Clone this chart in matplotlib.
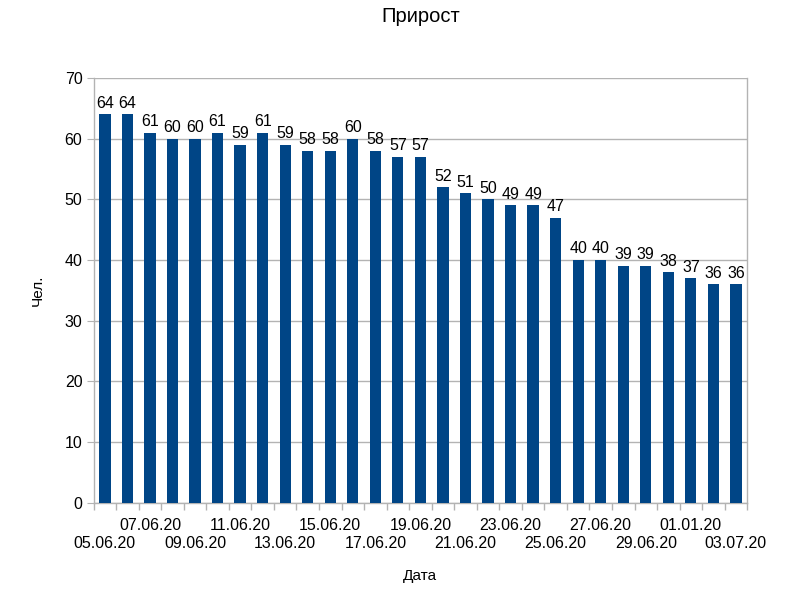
import matplotlib
matplotlib.use("Agg")
import matplotlib.pyplot as plt
import numpy as np

plt.rcParams['font.family'] = ['Liberation Sans', 'DejaVu Sans']

dates = ["05.06.20", "06.06.20", "07.06.20", "08.06.20", "09.06.20", "10.06.20",
         "11.06.20", "12.06.20", "13.06.20", "14.06.20", "15.06.20", "16.06.20",
         "17.06.20", "18.06.20", "19.06.20", "20.06.20", "21.06.20", "22.06.20",
         "23.06.20", "24.06.20", "25.06.20", "26.06.20", "27.06.20", "28.06.20",
         "29.06.20", "30.06.20", "01.01.20", "02.07.20", "03.07.20"]
values = [64, 64, 61, 60, 60, 61, 59, 61, 59, 58, 58, 60, 58, 57, 57,
          52, 51, 50, 49, 49, 47, 40, 40, 39, 39, 38, 37, 36, 36]

bar_color = "#004586"
grid_color = "#b3b3b3"

fig = plt.figure(figsize=(8, 6), dpi=100)
ax = fig.add_axes([0.117, 0.162, 0.817, 0.708])

x = np.arange(len(values))
ax.bar(x, values, width=0.5, color=bar_color, zorder=3)
for xi, v in zip(x, values):
    ax.text(xi, v + 0.6, str(v), ha='center', va='bottom', fontsize=11.5, color='#000000', zorder=4)

ax.set_xlim(-0.5, len(values) - 0.5)
ax.set_ylim(0, 70)
ax.set_yticks(np.arange(0, 71, 10))
ax.yaxis.grid(True, color=grid_color, linewidth=1, zorder=0)

# category boundary tick marks
ax.set_xticks(np.arange(-0.5, len(values), 1.0), minor=True)
ax.tick_params(axis='x', which='minor', length=5, color=grid_color, width=1)
# staggered labels for every other category
label_pos = x[::2]
ax.set_xticks(label_pos)
ax.set_xticklabels([dates[i] for i in label_pos], fontsize=11.5)
ax.tick_params(axis='x', which='major', length=0)
ax.tick_params(axis='y', length=5, color=grid_color, labelsize=11.5, pad=3)
for k, t in enumerate(ax.xaxis.get_major_ticks()):
    t.set_pad(24 if k % 2 == 0 else 11)

for s in ['left', 'right', 'bottom']:
    ax.spines[s].set_color(grid_color)
    ax.spines[s].set_linewidth(1)
ax.spines['top'].set_visible(False)

ax.set_title("Прирост", fontsize=14.5, pad=40)
ax.set_xlabel("Дата", fontsize=11, labelpad=13)
ax.set_ylabel("Чел.", fontsize=11, labelpad=14)

fig.savefig("out.png", dpi=100, facecolor='white')
